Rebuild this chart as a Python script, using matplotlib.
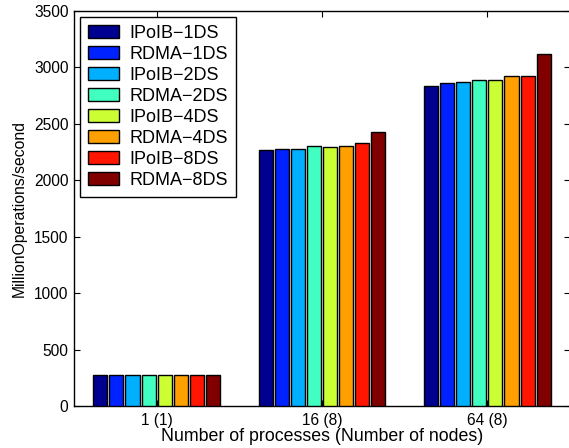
import matplotlib
matplotlib.use("Agg")
import matplotlib.pyplot as plt
import numpy as np

categories = ["1 (1)", "16 (8)", "64 (8)"]
series = ["IPoIB\u22121DS", "RDMA\u22121DS", "IPoIB\u22122DS", "RDMA\u22122DS",
          "IPoIB\u22124DS", "RDMA\u22124DS", "IPoIB\u22128DS", "RDMA\u22128DS"]
values = [
    [278, 2265, 2833],
    [278, 2280, 2863],
    [278, 2274, 2869],
    [278, 2304, 2893],
    [278, 2292, 2893],
    [278, 2300, 2928],
    [278, 2333, 2925],
    [278, 2431, 3123],
]
colors = ["#000090", "#0022FF", "#00B0FF", "#40FFC0",
          "#CCFF33", "#FFA000", "#FF1500", "#800000"]
yticks = [0, 500, 1000, 1500, 2000, 2500, 3000, 3500]

plt.rcParams['font.family'] = ['Liberation Sans', 'DejaVu Sans']
fig = plt.figure(figsize=(5.69, 4.48), dpi=100)
ax = fig.add_axes([74/569, 42/448, 496/569, 395/448])

x = np.arange(1, len(categories) + 1)
slot = 0.0975
bw = 0.085
for i, (name, vals) in enumerate(zip(series, values)):
    off = (i - (len(series) - 1) / 2) * slot
    ax.bar(x + off + 0.005, vals, width=bw, color='#a0a0a0', edgecolor='none',
           zorder=2)
    ax.bar(x + off, vals, width=bw, color=colors[i], edgecolor='black',
           linewidth=1.0, label=name, zorder=3)

ax.set_xlim(0.5, 3.5)
ax.set_ylim(0, 3500)
ax.set_xticks(x)
ax.set_xticklabels(categories, fontsize=11.2)
ax.set_yticks(yticks)
ax.set_yticklabels([str(v) for v in yticks], fontsize=11.2)
ax.tick_params(direction='in', top=True, right=True, length=4, width=0.8)
ax.tick_params(axis='x', pad=5)
ax.tick_params(axis='y', pad=4)
for s in ax.spines.values():
    s.set_linewidth(1.0)
ax.set_xlabel("Number of processes (Number of nodes)", fontsize=12.8, labelpad=0)
ax.set_ylabel("MillionOperations/second", fontsize=11.3, labelpad=5)

leg = ax.legend(loc='upper left', bbox_to_anchor=(6/496, 1 - 6/395), fontsize=13,
                frameon=True, fancybox=False, edgecolor='black', framealpha=1,
                handlelength=1.7, handleheight=0.7, labelspacing=0.22,
                borderpad=0.45, handletextpad=0.6, borderaxespad=0)
leg.get_frame().set_linewidth(1.0)

fig.savefig("out.png", dpi=100)
